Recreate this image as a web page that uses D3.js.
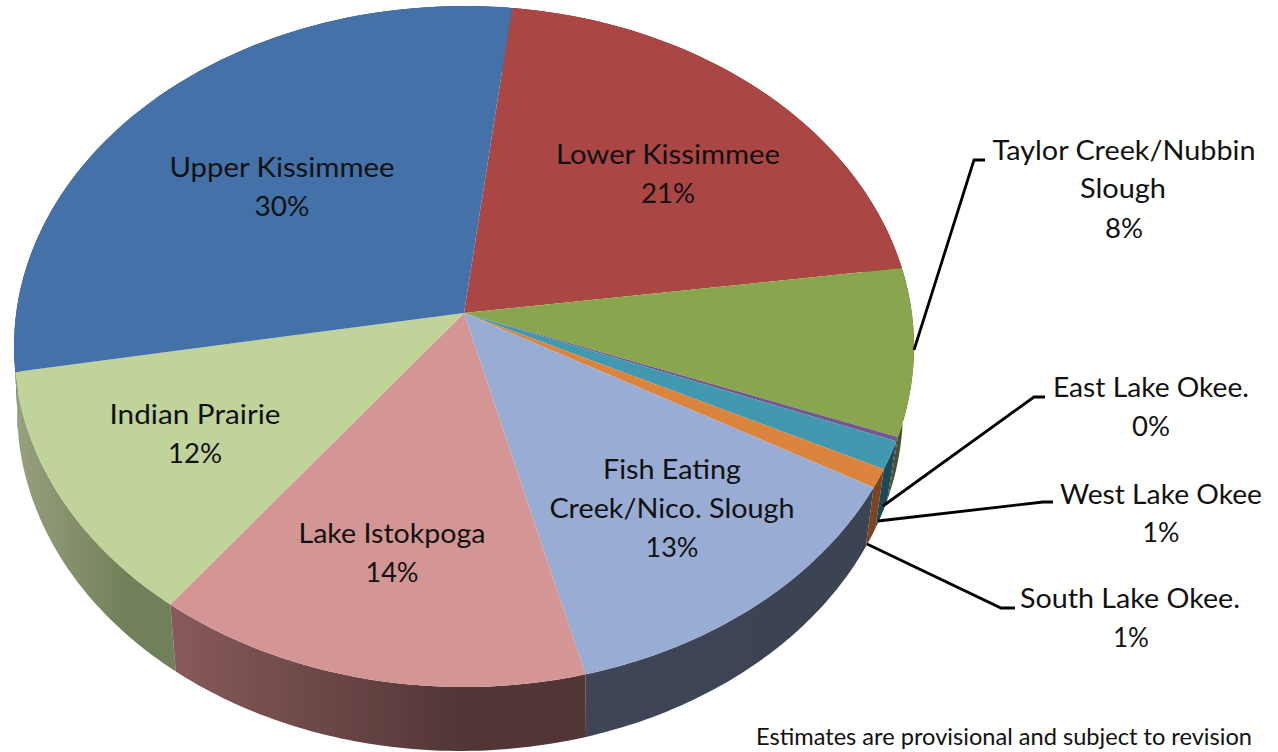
<!DOCTYPE html>
<html>
<head>
<meta charset="utf-8">
<script src="https://cdn.jsdelivr.net/npm/d3@7"></script>
<style>
  html, body { margin: 0; background: #fff; }
  svg { display: block; }
  text { font-family: Lato, "Open Sans", sans-serif; fill: #111; }
</style>
</head>
<body>
<div id="chart"></div>
<script>
/* 3D looking pie: basin shares */

// data, clockwise from the Lower Kissimmee slice
const categories = ["Lower Kissimmee", "Taylor Creek/Nubbin Slough", "East Lake Okee.", "West Lake Okee",
    "South Lake Okee.", "Fish Eating Creek/Nico. Slough", "Lake Istokpoga", "Indian Prairie", "Upper Kissimmee"];
const shares = [20.97, 7.93, 0.2, 1.33, 0.89, 12.86, 14.28, 11.92, 29.63];
const percentLabels = ["21%", "8%", "0%", "1%", "1%", "13%", "14%", "12%", "30%"];
const note = "Estimates are provisional and subject to revision";

// styles, same order as the data
const topColors = ["#AA4643", "#89A54E", "#71588F", "#4198AF", "#DB843D", "#98ACD4", "#D49694", "#BFD39B", "#4472A8"];
const wallStart = ["#5a2523", "#46552a", "#3a2d4a", "#1c4a58", "#7a4520", "#3e4557", "#87595a", "#979f7c", "#2a4668"];
const wallEnd   = ["#5a2523", "#46552a", "#3a2d4a", "#1c4a58", "#7a4520", "#3c4454", "#523636", "#70805a", "#2a4668"];

// label layout: centre x, baseline, width, one row per text line
const labelLines = [
    [668, 164, 224, "Lower Kissimmee"], [668, 203, 54, "21%"],
    [1124, 160, 263, "Taylor Creek/Nubbin"], [1123, 198, 86, "Slough"], [1124, 238, 38, "8%"],
    [1151, 397, 196, "East Lake Okee."], [1151, 436, 38, "0%"],
    [1161, 504, 202, "West Lake Okee"], [1161, 542, 37, "1%"],
    [1130, 608, 220, "South Lake Okee."], [1131, 647, 36, "1%"],
    [672, 479, 138, "Fish Eating"], [672, 518, 245, "Creek/Nico. Slough"], [672, 557, 53, "13%"],
    [392, 543, 187, "Lake Istokpoga"], [392, 582, 53, "14%"],
    [195, 424, 171, "Indian Prairie"], [195, 463, 54, "12%"],
    [282, 177, 225, "Upper Kissimmee"], [282, 216, 55, "30%"]
];
const leaders = [
    [[914, 350], [974, 160], [985, 160]],
    [[883, 506], [1034, 397], [1045, 397]],
    [[878, 521], [1043, 502], [1053, 502]],
    [[867, 544], [1001, 608], [1015, 608]]
];

const width = 1278, height = 752;

// the disc in perspective: top face and the bottom rim underneath it
const persp = 0.0984;
const rimSkew = -0.0136; // wall seams lean a little towards the middle
const topFace = {cx: 464, cy: 313, a: 447.8, b: 337.2, skew: 0};
const bottomFace = {cx: 460, cy: 376.4, a: 440.8, b: 337.7, skew: rimSkew};

function project(face, angle) {
    let t = angle + face.skew;
    let u = Math.sin(t), v = Math.cos(t), w = 1 + persp * v;
    return [face.cx + face.a * u / w, face.cy - face.b * v / w];
}

function arcPoints(face, a0, a1) {
    return d3.range(0, 1.0001, 1 / 60).map(t => project(face, a0 + (a1 - a0) * t));
}

const pie = d3.pie()
    .sort(null)
    .value(d => d)
    .startAngle(6.76 * Math.PI / 180)
    .endAngle((360 + 6.76) * Math.PI / 180);
const slices = pie(shares);

const line = d3.line();

let svg = d3.select("#chart")
    .append("svg")
    .attr("width", width)
    .attr("height", height)
    .attr("viewBox", [0, 0, width, height]);

let defs = svg.append("defs");
slices.forEach((s, i) => {
    let p0 = project(bottomFace, s.startAngle), p1 = project(bottomFace, s.endAngle);
    let g = defs.append("linearGradient")
        .attr("id", "wall" + i)
        .attr("gradientUnits", "userSpaceOnUse")
        .attr("x1", Math.min(p0[0], p1[0])).attr("x2", Math.max(p0[0], p1[0]))
        .attr("y1", 0).attr("y2", 0);
    g.append("stop").attr("offset", 0).attr("stop-color", wallStart[i]);
    g.append("stop").attr("offset", 0.7).attr("stop-color", wallEnd[i]);
});

// walls first, back to front so the front ones win
let walls = slices.map((s, i) => ({s, i}))
    .sort((a, b) => {
        let dist = d => Math.abs((d.s.startAngle + d.s.endAngle) / 2 - Math.PI);
        return dist(b) - dist(a);
    });

svg.append("g").selectAll("path")
    .data(walls)
    .join("path")
    .attr("fill", d => `url(#wall${d.i})`)
    .attr("d", d => line(arcPoints(topFace, d.s.startAngle, d.s.endAngle)
        .concat(arcPoints(bottomFace, d.s.startAngle, d.s.endAngle).reverse())) + "Z");

// top face
svg.append("g").selectAll("path")
    .data(slices)
    .join("path")
    .attr("fill", (d, i) => topColors[i])
    .attr("d", d => line([[topFace.cx, topFace.cy]].concat(arcPoints(topFace, d.startAngle, d.endAngle))) + "Z");

// leader lines
svg.append("g").selectAll("path")
    .data(leaders)
    .join("path")
    .attr("fill", "none")
    .attr("stroke", "#000")
    .attr("stroke-width", 2.8)
    .attr("d", d => line(d));

// labels, stretched to the measured widths
svg.append("g").selectAll("text")
    .data(labelLines)
    .join("text")
    .attr("x", d => d[0])
    .attr("y", d => d[1])
    .attr("text-anchor", "middle")
    .attr("font-size", 27)
    .attr("textLength", d => d[2])
    .attr("lengthAdjust", "spacingAndGlyphs")
    .text(d => d[3]);

svg.append("text")
    .attr("x", 756)
    .attr("y", 745)
    .attr("font-size", 23)
    .attr("textLength", 496)
    .attr("lengthAdjust", "spacingAndGlyphs")
    .text(note);
</script>
</body>
</html>
